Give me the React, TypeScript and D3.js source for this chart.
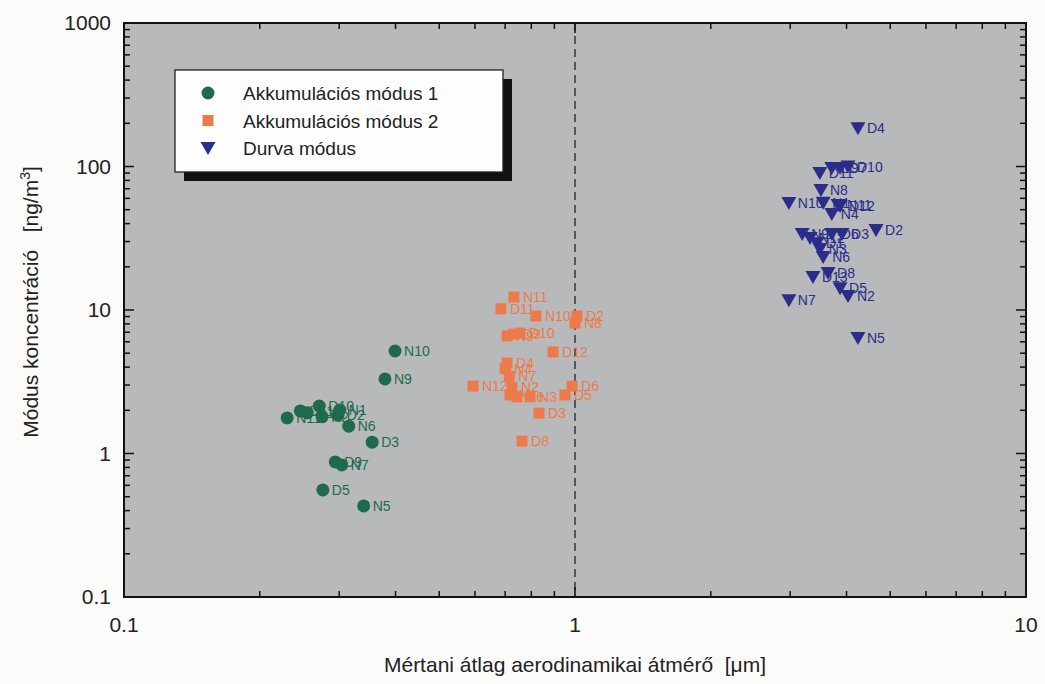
import React from "react";
import * as d3 from "d3";

// ---- Data ----
const mode1Labels = ["N10", "N9", "D3", "N5", "D5", "D9", "N7", "N6", "N1", "D10", "N11", "D11", "D12", "N2", "D2"];
const mode1X = [0.399, 0.379, 0.355, 0.340, 0.276, 0.294, 0.304, 0.315, 0.301, 0.271, 0.230, 0.246, 0.255, 0.275, 0.298];
const mode1Y = [5.18, 3.31, 1.20, 0.431, 0.557, 0.873, 0.832, 1.55, 2.01, 2.14, 1.77, 1.98, 1.92, 1.80, 1.85];

const mode2Labels = ["N11", "D11", "N10", "D2", "N8", "D10", "D9", "N9", "D12", "D4", "N4", "N7", "N12", "D6", "N2", "D5", "N3", "N6", "N1", "D3", "D8"];
const mode2X = [0.732, 0.685, 0.819, 1.01, 1.0, 0.755, 0.732, 0.707, 0.894, 0.707, 0.700, 0.715, 0.594, 0.985, 0.725, 0.95, 0.795, 0.744, 0.718, 0.832, 0.763];
const mode2Y = [12.3, 10.2, 9.08, 9.1, 8.1, 6.9, 6.8, 6.6, 5.10, 4.27, 3.9, 3.45, 2.95, 2.95, 2.9, 2.56, 2.48, 2.48, 2.56, 1.91, 1.22];

const coarseLabels = ["D4", "D10", "D7", "D9", "D11", "N8", "N11", "N1", "D12", "N10", "N4", "D2", "N9", "D3", "D6", "N12", "D1", "N3", "N6", "D13", "D8", "D5", "N2", "N7", "N5"];
const coarseX = [4.24, 4.03, 3.87, 3.71, 3.49, 3.51, 3.83, 3.55, 3.87, 2.98, 3.71, 4.65, 3.19, 3.91, 3.71, 3.32, 3.44, 3.49, 3.55, 3.37, 3.64, 3.87, 4.03, 2.98, 4.24];
const coarseY = [185, 100, 97.7, 97.7, 90.2, 68.5, 54, 56, 53, 55.7, 46.7, 36.1, 33.9, 33.9, 33.9, 31.7, 29.2, 26.6, 23.4, 17.0, 18.1, 14.2, 12.5, 11.7, 6.38];

const legendNames = ["Akkumulációs módus 1", "Akkumulációs módus 2", "Durva módus"];
const xTickValues = [0.1, 1, 10];
const yTickValues = [0.1, 1, 10, 100, 1000];

// ---- Layout ----
const W = 1045, H = 684;
const L = 124, R = 1026, T = 23, B = 597;
const GREEN = "#1d6a4c", ORANGE = "#ee7a4c", BLUE = "#2a2d8a";
const FONT = "Arial, 'Liberation Sans', sans-serif";

export default function App() {
  const x = d3.scaleLog().domain([0.1, 10]).range([L, R]);
  const y = d3.scaleLog().domain([0.1, 1000]).range([B, T]);

  const xMinor: number[] = [];
  for (const dec of [0.1, 1]) for (let k = 2; k <= 9; k++) xMinor.push(dec * k);
  const yMinor: number[] = [];
  for (const dec of [0.1, 1, 10, 100]) for (let k = 2; k <= 9; k++) yMinor.push(dec * k);

  const fmt = (v: number) => (v < 1 ? String(v) : String(Math.round(v)));

  const series = [
    { labels: mode1Labels, xs: mode1X, ys: mode1Y, color: GREEN, shape: "circle" },
    { labels: mode2Labels, xs: mode2X, ys: mode2Y, color: ORANGE, shape: "square" },
    { labels: coarseLabels, xs: coarseX, ys: coarseY, color: BLUE, shape: "tri" },
  ];

  const marker = (shape: string, cx: number, cy: number, color: string, key: string) => {
    if (shape === "circle") return <circle key={key} cx={cx} cy={cy} r={6.5} fill={color} />;
    if (shape === "square") return <rect key={key} x={cx - 5.5} y={cy - 5.5} width={11} height={11} fill={color} />;
    return <path key={key} d={`M${cx - 7.5},${cy - 6} L${cx + 7.5},${cy - 6} L${cx},${cy + 7} Z`} fill={color} />;
  };

  const MAJ = 10, MIN = 6;

  return (
    <svg width={W} height={H} style={{ position: "absolute", left: 0, top: 0, background: "#fdfdfd" }} fontFamily={FONT}>
      <rect x={0} y={0} width={W} height={H} fill="#fbfbfa" />
      <rect x={L} y={T} width={R - L} height={B - T} fill="#b8b9bb" />
      {/* dashed line at x=1 */}
      <line x1={x(1)} x2={x(1)} y1={T} y2={B} stroke="#222" strokeWidth={1.3} strokeDasharray="8,5" />

      {/* ticks */}
      <g stroke="#111" strokeWidth={1.5}>
        {xTickValues.map((v) => (
          <g key={"xm" + v}>
            <line x1={x(v)} x2={x(v)} y1={B} y2={B - MAJ} />
            <line x1={x(v)} x2={x(v)} y1={T} y2={T + MAJ} />
          </g>
        ))}
        {xMinor.map((v) => (
          <g key={"xn" + v}>
            <line x1={x(v)} x2={x(v)} y1={B} y2={B - MIN} />
            <line x1={x(v)} x2={x(v)} y1={T} y2={T + MIN} />
          </g>
        ))}
        {yTickValues.map((v) => (
          <g key={"ym" + v}>
            <line x1={L} x2={L + MAJ} y1={y(v)} y2={y(v)} />
            <line x1={R} x2={R - MAJ} y1={y(v)} y2={y(v)} />
          </g>
        ))}
        {yMinor.map((v) => (
          <g key={"yn" + v}>
            <line x1={L} x2={L + MIN} y1={y(v)} y2={y(v)} />
            <line x1={R} x2={R - MIN} y1={y(v)} y2={y(v)} />
          </g>
        ))}
      </g>

      {/* data */}
      {series.map((s, si) => (
        <g key={"s" + si}>
          {s.xs.map((xv, i) => marker(s.shape, x(xv), y(s.ys[i]), s.color, `m${si}-${i}`))}
          {s.xs.map((xv, i) => (
            <text key={`t${si}-${i}`} x={x(xv) + 9} y={y(s.ys[i]) + 5} fontSize={14} fill={s.color}>
              {s.labels[i]}
            </text>
          ))}
        </g>
      ))}

      {/* frame */}
      <rect x={L} y={T} width={R - L} height={B - T} fill="none" stroke="#111" strokeWidth={2} />

      {/* tick labels */}
      {yTickValues.map((v) => (
        <text key={"yl" + v} x={111} y={y(v) + 7} fontSize={21} textAnchor="end" fill="#222">
          {fmt(v)}
        </text>
      ))}
      {xTickValues.map((v) => (
        <text key={"xl" + v} x={x(v)} y={632} fontSize={21} textAnchor="middle" fill="#222">
          {fmt(v)}
        </text>
      ))}

      {/* axis titles */}
      <text x={x(1)} y={672} fontSize={21} textAnchor="middle" fill="#222" style={{ whiteSpace: "pre" }}>
        {"Mértani átlag aerodinamikai átmérő  [μm]"}
      </text>
      <text transform={`translate(38,${(T + B) / 2 - 8}) rotate(-90)`} fontSize={21} textAnchor="middle" fill="#222" style={{ whiteSpace: "pre" }}>
        {"Módus koncentráció   [ng/m"}
        <tspan dy={-8} fontSize={14}>3</tspan>
        <tspan dy={8}>]</tspan>
      </text>

      {/* legend */}
      <rect x={184} y={79} width={328} height={102} fill="#111" />
      <rect x={175} y={70} width={328} height={102} fill="#fefefe" stroke="#222" strokeWidth={1.3} />
      {legendNames.map((n, i) => {
        const ly = 93 + i * 27.5;
        const s = series[i];
        return (
          <g key={"lg" + i}>
            {marker(s.shape, 208, ly, s.color, "lm" + i)}
            <text x={243} y={ly + 7} fontSize={19} fill="#222">{n}</text>
          </g>
        );
      })}
    </svg>
  );
}
